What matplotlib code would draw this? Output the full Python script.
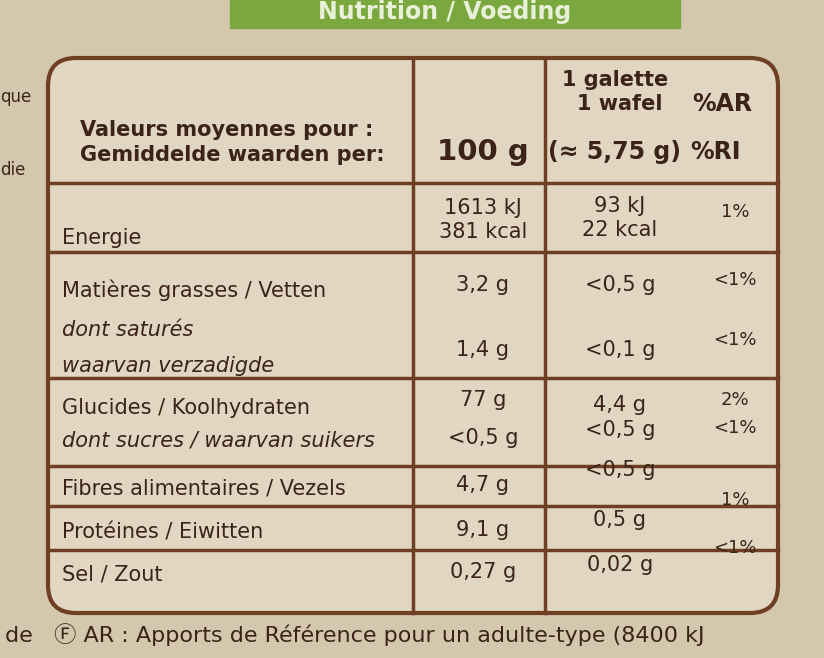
import matplotlib.pyplot as plt
from matplotlib.patches import FancyBboxPatch, Rectangle

# label content
row_labels = ["Energie", "Matières grasses / Vetten", "dont saturés", "waarvan verzadigde",
              "Glucides / Koolhydraten", "dont sucres / waarvan suikers",
              "Fibres alimentaires / Vezels", "Protéines / Eiwitten", "Sel / Zout"]
per_100g = ["1613 kJ\n381 kcal", "3,2 g", "", "1,4 g", "77 g", "<0,5 g", "4,7 g", "9,1 g", "0,27 g"]
per_wafer = ["93 kJ\n22 kcal", "<0,5 g", "", "<0,1 g", "4,4 g", "<0,5 g", "<0,5 g", "0,5 g", "0,02 g"]
pct_ri = ["1%", "<1%", "", "<1%", "2%", "<1%", "", "1%", "<1%"]

label_y = [238, 290, 330, 366, 408, 440, 488, 532, 575]
value_y = [220, 285, 330, 350, 400, 438, 485, 530, 572]
wafer_y = [218, 285, 330, 350, 405, 430, 470, 520, 565]
pct_y = [212, 280, 330, 340, 400, 428, 470, 500, 548]
italic = [False, False, True, True, False, True, False, False, False]

ink = "#3b2417"
line = "#6e3f22"

fig = plt.figure(figsize=(8.24, 6.58), dpi=100)
ax = fig.add_axes([0, 0, 1, 1])
ax.set_xlim(0, 824)
ax.set_ylim(658, 0)
ax.axis("off")

ax.add_patch(Rectangle((0, 0), 824, 658, color="#d3c7ae", zorder=0))
ax.add_patch(Rectangle((230, 0), 450, 28, color="#7aa83e", zorder=1))
ax.text(445, 12, "Nutrition / Voeding", color="#e8f0d8", fontsize=17, fontweight="bold",
        ha="center", va="center")
ax.add_patch(FancyBboxPatch((48, 58), 730, 555, boxstyle="round,pad=0,rounding_size=28",
                            fc="#e0d6c2", ec=line, lw=3, zorder=1))

for x in [413, 545]:
    ax.plot([x, x], [58, 613], color=line, lw=2.5)
for y in [183, 252, 378, 466, 506, 550]:
    ax.plot([48, 778], [y, y], color=line, lw=2.5)

fs = 15
ax.text(80, 130, "Valeurs moyennes pour :", fontsize=fs, fontweight="bold", color=ink, va="center")
ax.text(80, 155, "Gemiddelde waarden per:", fontsize=fs, fontweight="bold", color=ink, va="center")
ax.text(483, 152, "100 g", fontsize=21, fontweight="bold", color=ink, ha="center", va="center")
ax.text(615, 80, "1 galette", fontsize=fs, fontweight="bold", color=ink, ha="center", va="center")
ax.text(620, 104, "1 wafel", fontsize=fs, fontweight="bold", color=ink, ha="center", va="center")
ax.text(615, 152, "(≈ 5,75 g)", fontsize=17, fontweight="bold", color=ink, ha="center", va="center")
ax.text(722, 104, "%AR", fontsize=17, fontweight="bold", color=ink, ha="center", va="center")
ax.text(716, 152, "%RI", fontsize=17, fontweight="bold", color=ink, ha="center", va="center")

for i, lab in enumerate(row_labels):
    ax.text(62, label_y[i], lab, fontsize=fs, color=ink, va="center",
            style="italic" if italic[i] else "normal")
    ax.text(483, value_y[i], per_100g[i], fontsize=fs, color=ink, ha="center", va="center",
            linespacing=1.3)
    ax.text(620, wafer_y[i], per_wafer[i], fontsize=fs, color=ink, ha="center", va="center",
            linespacing=1.3)
    ax.text(735, pct_y[i], pct_ri[i], fontsize=13, color=ink, ha="center", va="center")

ax.text(5, 635, "de   Ⓕ AR : Apports de Référence pour un adulte-type (8400 kJ",
        fontsize=16, color=ink, va="center", family=["DejaVu Sans", "Noto Sans CJK JP"])
ax.text(0, 97, "que", fontsize=12, color=ink, va="center")
ax.text(0, 170, "die", fontsize=12, color=ink, va="center")

fig.savefig("out.png", dpi=100)
